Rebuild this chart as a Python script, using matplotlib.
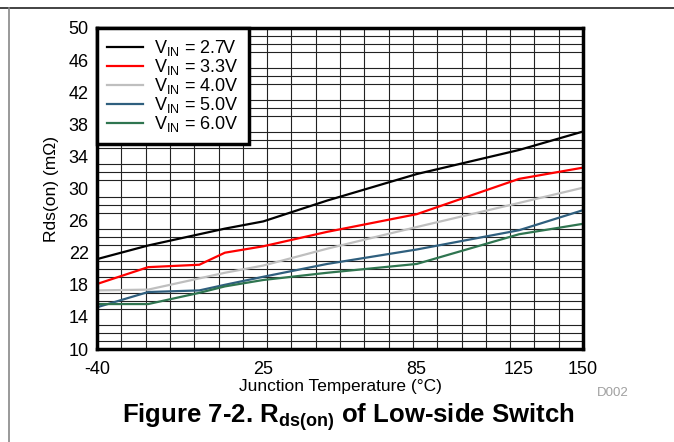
import numpy as np
import matplotlib
matplotlib.use("Agg")
import matplotlib.pyplot as plt
from matplotlib.lines import Line2D

plt.rcParams["font.family"] = ["Liberation Sans", "DejaVu Sans"]
plt.rcParams["mathtext.fontset"] = "custom"
plt.rcParams["mathtext.rm"] = "Liberation Sans"
plt.rcParams["mathtext.it"] = "Liberation Sans:italic"
plt.rcParams["mathtext.bf"] = "Liberation Sans:bold"
plt.rcParams["axes.unicode_minus"] = False

# junction temperature (°C)
temps = [-40, -20, 0, 10, 25, 50, 85, 125, 150]
# Rds(on) in mOhm
rds_27 = [21.2, 22.9, 24.3, 25.0, 25.9, 28.5, 31.8, 34.8, 37.1]
rds_33 = [18.1, 20.2, 20.5, 22.0, 22.8, 24.6, 26.8, 31.2, 32.6]
rds_40 = [17.3, 17.4, 18.8, 19.5, 20.4, 22.5, 25.2, 28.2, 30.1]
rds_50 = [15.2, 17.1, 17.3, 18.0, 19.0, 20.6, 22.4, 24.8, 27.3]
rds_60 = [15.6, 15.6, 17.0, 17.8, 18.6, 19.5, 20.6, 24.3, 25.6]

labels = ["2.7V", "3.3V", "4.0V", "5.0V", "6.0V"]
colors = ["#000000", "#ff0000", "#bfbfbf", "#2f5f7e", "#2f7550"]
x_ticks = [-40, 25, 85, 125, 150]
y_ticks = list(range(10, 51, 4))

fig = plt.figure(figsize=(6.74, 4.42), dpi=100)
ax = fig.add_axes([97 / 674, 93 / 442, 486 / 674, 321 / 442])

for ys, lab, c in zip([rds_27, rds_33, rds_40, rds_50, rds_60], labels, colors):
    ax.plot(temps, ys, color=c, linewidth=1.6, label="V$_{\\mathrm{IN}}$ = " + lab, zorder=3)

ax.set_xlim(-40, 150)
ax.set_ylim(10, 50)
ax.set_xticks(x_ticks)
ax.set_yticks(y_ticks)
ax.set_xticks(np.linspace(-40, 150, 21), minor=True)
ax.set_yticks(np.arange(10, 51, 1), minor=True)
ax.grid(which="minor", color="#222222", linewidth=0.8, zorder=0)
ax.tick_params(which="both", length=0)
ax.tick_params(axis="x", labelsize=13, pad=9)
ax.tick_params(axis="y", labelsize=13, pad=6)
for s in ax.spines.values():
    s.set_linewidth(2.5)
    s.set_zorder(4)

ax.set_xlabel("Junction Temperature (°C)", fontsize=12.5, labelpad=0)
ax.set_ylabel("Rds(on) (m\u03a9)", fontsize=12.5, labelpad=7)

leg = ax.legend(loc="upper left", fontsize=13, frameon=True, fancybox=False,
                framealpha=1, edgecolor="black", handlelength=2.0,
                borderaxespad=0, labelspacing=-0.05, borderpad=0.55,
                handletextpad=0.6)
leg.get_frame().set_linewidth(2.5)
leg.set_zorder(5)

fig.text(613 / 674, 1 - 393 / 442, "D002", fontsize=9.5, color="#a0a0a0", ha="center", va="center")
fig.text(348 / 674, 1 - 417 / 442, "Figure 7-2. R$_{\\mathbf{ds(on)}}$ of Low-side Switch",
         fontsize=18.5, fontweight="bold", ha="center", va="center")

# page rules
fig.add_artist(Line2D([0, 1], [1 - 8 / 442, 1 - 8 / 442], color="#222222", linewidth=1.2))
fig.add_artist(Line2D([9 / 674, 9 / 674], [0, 1 - 8 / 442], color="#888888", linewidth=1.2))

fig.savefig("out.png", dpi=100)
